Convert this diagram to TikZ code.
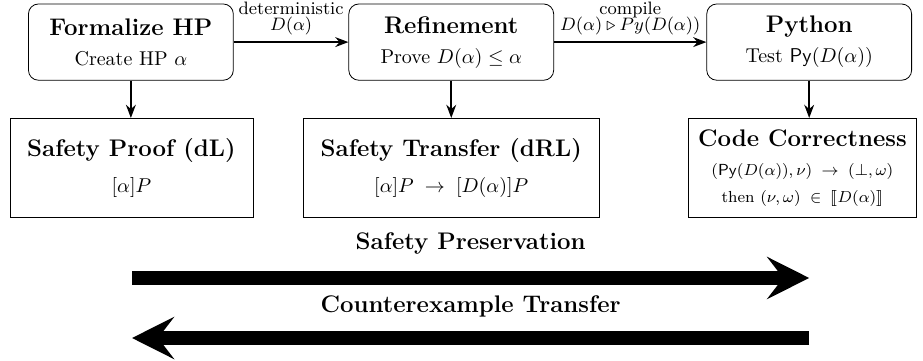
\documentclass[tikz,border=0pt]{standalone}
\usepackage{amsmath,amssymb}
\usepackage{stmaryrd}
\usetikzlibrary{arrows.meta}

\begin{document}
\begin{tikzpicture}[
    stage/.style={draw, rounded corners=5pt, align=center, minimum width=3.6cm, minimum height=1.34cm, inner sep=2pt},
    result/.style={draw, align=center, minimum height=1.74cm, inner sep=2pt},
    flow/.style={-{Stealth}, thick},
    bigflow/.style={line width=7pt, -{Stealth[length=21pt,width=21pt,inset=8pt]}},
  ]
  \useasboundingbox (0,0) rectangle (16.22,-6.33);

  % top row
  \node[stage] (formal) at (2.30,-0.74) {{\large\bfseries Formalize HP}\\[3pt] Create HP $\alpha$};
  \node[stage] (refine) at (7.93,-0.74) {{\large\bfseries Refinement}\\[3pt] Prove $D(\alpha) \leq \alpha$};
  \node[stage] (python) at (14.22,-0.74) {{\large\bfseries Python}\\[3pt] Test $\mathsf{Py}(D(\alpha))$};

  % bottom row
  \node[result, minimum width=4.27cm] (proof) at (2.31,-2.95) {{\large\bfseries Safety Proof (dL)}\\[6pt] $[\alpha]P$};
  \node[result, minimum width=5.20cm] (transfer) at (7.93,-2.95) {{\large\bfseries Safety Transfer (dRL)}\\[6pt] $[\alpha]P \;\rightarrow\; [D(\alpha)]P$};
  \node[result, minimum width=4.02cm] (code) at (14.10,-2.95) {{\large\bfseries Code Correctness}\\[2.5pt]
    {\footnotesize $(\mathsf{Py}(D(\alpha)),\nu) \;\rightarrow\; (\bot,\omega)$}\\[1.5pt]
    {\footnotesize then~$(\nu,\omega) \;\in\; \llbracket D(\alpha)\rrbracket$}};

  \draw[flow] (formal) -- node[above=1pt, inner sep=2pt, align=center, font=\small] {deterministic\\[-3pt]$D(\alpha)$} (refine);
  \draw[flow] (refine) -- node[above=1pt, inner sep=2pt, align=center, font=\small] {compile\\[-3pt]$D(\alpha) \triangleright Py(D(\alpha))$} (python);

  \draw[flow] (formal.south) -- (formal.south |- proof.north);
  \draw[flow] (refine.south) -- (refine.south |- transfer.north);
  \draw[flow] (python.south) -- (python.south |- code.north);

  % preservation / counterexamples
  \coordinate (spL) at (2.32,-4.885);
  \coordinate (spR) at (14.22,-4.885);
  \coordinate (ctL) at (2.32,-5.94);
  \coordinate (ctR) at (14.22,-5.94);
  \draw[bigflow] (spL) -- node[above=5pt, font=\large\bfseries] (sp) {Safety Preservation} (spR);
  \draw[bigflow] (ctR) -- node[above=3.5pt, font=\large\bfseries] (ct) {Counterexample Transfer} (ctL);
\end{tikzpicture}
\end{document}
